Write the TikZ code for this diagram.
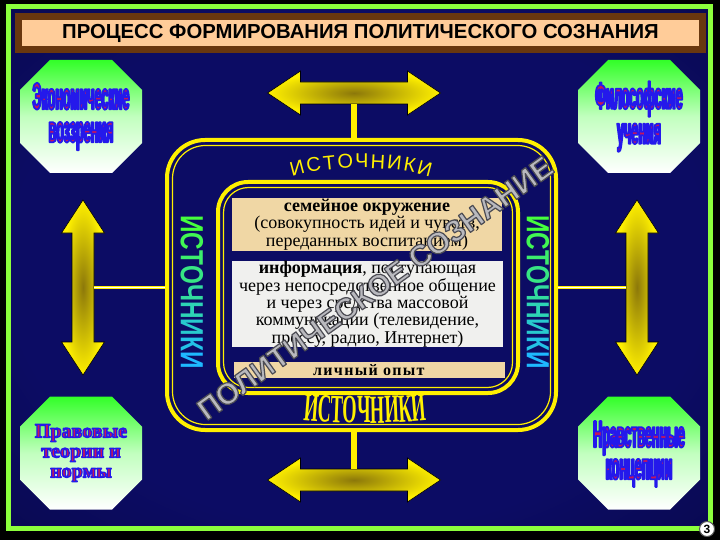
\documentclass[tikz,border=0pt]{standalone}
\usepackage{fontspec}
\setmainfont{Liberation Serif}
\newfontfamily\titlefont[FakeStretch=1.0]{Liberation Sans}
\newfontfamily\octfont[FakeStretch=0.33]{Liberation Sans}
\newfontfamily\sidefont[FakeStretch=0.76]{Liberation Sans}
\newfontfamily\archfont{Liberation Sans}
\newfontfamily\bottomfont[FakeStretch=0.46]{Liberation Serif}
\newfontfamily\markfont{Liberation Sans}
\usetikzlibrary{positioning, calc, decorations.text}

\definecolor{navy}{RGB}{12,12,100}
\definecolor{navymid}{RGB}{5,5,58}
\definecolor{navydark}{RGB}{0,0,26}
\definecolor{framegreen}{RGB}{140,255,60}
\definecolor{titlebrown}{RGB}{105,55,15}
\definecolor{titlepeach}{RGB}{255,204,153}
\definecolor{octgreen}{RGB}{50,255,40}
\definecolor{octred}{RGB}{200,20,90}
\definecolor{arrowyellow}{RGB}{255,240,0}
\definecolor{arrowolive}{RGB}{140,120,10}
\definecolor{tan}{RGB}{240,215,165}
\definecolor{infogray}{RGB}{240,240,238}
\definecolor{sidegreen}{RGB}{70,255,60}
\definecolor{sidecyan}{RGB}{30,185,255}
\definecolor{markgray}{RGB}{185,185,190}

\pgfdeclareradialshading{bgglow}{\pgfpoint{0bp}{0bp}}{color(0bp)=(navy); color(25bp)=(navy); color(50bp)=(navymid); color(70bp)=(navydark)}

\tikzstyle{titlebar} = [draw=titlebrown, line width=7pt, fill=titlepeach, minimum width=684pt, minimum height=33pt, inner sep=0pt, font=\titlefont\bfseries\fontsize{20.3}{20}\selectfont]
\tikzstyle{octagon} = [top color=octgreen, bottom color=white, middle color=octgreen!30!white]
\tikzstyle{octlabel} = [align=center, inner sep=0pt, text=octred]
\tikzstyle{arrowbody} = [draw=black, line width=0.6pt, inner color=arrowolive, outer color=arrowyellow]
\tikzstyle{stem} = [arrowyellow, line width=6pt]
\tikzstyle{wire} = [draw=arrowyellow, double=white, line width=1pt, double distance=1.2pt]
\tikzstyle{sourceframe} = [draw=arrowyellow, line width=4pt, inner sep=0pt]
\tikzstyle{sourceline} = [draw=arrowyellow, line width=1.2pt, inner sep=0pt]
\tikzstyle{textbox} = [align=center, inner sep=0pt, font=\fontsize{18}{15.4}\selectfont]
\tikzstyle{sidelabel} = [inner sep=0pt, font=\sidefont\bfseries\fontsize{32}{32}\selectfont]
\tikzstyle{marklabel} = [inner sep=0pt, rotate=35.6, text=markgray, font=\markfont\bfseries\fontsize{30}{30}\selectfont]

% Double arrows, drawn round a named centre.
\newcommand{\harrow}[2]{%
  \coordinate (#1) at (#2);
  \path[arrowbody] (#1) ++(-86.5,0) -- ++(33,-22) -- ++(0,11) -- ++(107,0) -- ++(0,-11) -- ++(33,22)
    -- ++(-33,22) -- ++(0,-11) -- ++(-107,0) -- ++(0,11) -- cycle;}
\newcommand{\varrow}[2]{%
  \coordinate (#1) at (#2);
  \path[arrowbody] (#1) ++(0,-87.5) -- ++(21.5,33) -- ++(-10.5,0) -- ++(0,109) -- ++(10.5,0) -- ++(-21.5,33)
    -- ++(-21.5,-33) -- ++(10.5,0) -- ++(0,-109) -- ++(-10.5,0) -- cycle;}

% Chamfered box round a named centre.
\newcommand{\octagonat}[2]{%
  \coordinate (#1) at (#2);
  \path[octagon] (#1) ++(-61,-26.5) -- ++(0,53) -- ++(30,30) -- ++(62,0) -- ++(30,-30) -- ++(0,-53)
    -- ++(-30,-30) -- ++(-62,0) -- cycle;}

% Stroked text: width, stroke colour as rgb.
\newcommand{\rim}[2]{\special{pdf:literal direct 2 Tr #1 w 1 j #2 RG}}
\newcommand{\rimoff}{\special{pdf:literal direct 0 Tr}}

% Word shaded from green to cyan.
\newcommand{\gradword}{\foreach \letter [count=\i] in {И,С,Т,О,Ч,Н,И,К,И}{\pgfmathtruncatemacro{\gradpct}{(\i-1)*12.5}\textcolor{sidecyan!\gradpct!sidegreen}{\letter}}}

\begin{document}
\begin{tikzpicture}[x=1pt, y=-1pt]
    \useasboundingbox (0,0) rectangle (720,540);

    % Background and border.
    \fill[black] (0,0) rectangle (720,540);
    \shade[shading=bgglow] (8,7) rectangle (710,528);
    \draw[framegreen, line width=5pt] (8,7) rectangle (710,528);

    % Title.
    \node (title) [titlebar] at (360.5,33) {ПРОЦЕСС ФОРМИРОВАНИЯ ПОЛИТИЧЕСКОГО СОЗНАНИЯ};

    % Source frames.
    \node (outer) [sourceframe, rounded corners=38pt, minimum width=389pt, minimum height=290pt] at (361.5,285) {};
    \node (outer line) [sourceline, rounded corners=33pt, minimum width=378pt, minimum height=279pt] at (outer) {};
    \node (inner) [sourceframe, rounded corners=30pt, minimum width=300pt, minimum height=211pt] at (368,287.5) {};
    \node (inner line) [sourceline, rounded corners=25pt, minimum width=289pt, minimum height=200pt] at (inner) {};

    % Arrows.
    \harrow{top arrow}{354,93}
    \harrow{bottom arrow}{354,480}
    \varrow{left arrow}{83,287.5}
    \varrow{right arrow}{637,287.5}

    % Stems from the arrows to the outer frame.
    \draw[stem] ($(top arrow)+(0,11)$) -- (top arrow |- outer.north);
    \draw[stem] ($(bottom arrow)+(0,-11)$) -- (bottom arrow |- outer.south);
    \draw[wire] ($(left arrow)+(11,0)$) -- (left arrow -| outer.west);
    \draw[wire] ($(right arrow)+(-11,0)$) -- (right arrow -| outer.east);

    % Octagons.
    \octagonat{economy}{81,116.5}
    \octagonat{philosophy}{639,116.5}
    \octagonat{law}{81,453}
    \octagonat{morals}{639,453}

    % Octagon labels.
    \node (economy label) [octlabel, font=\octfont\bfseries\fontsize{38}{33}\selectfont] at (economy)
        {\rim{1.8}{0.14 0.1 0.92}Экономические\\воззрения\rimoff};
    \node (philosophy label) [octlabel, font=\octfont\bfseries\fontsize{38}{35}\selectfont] at (philosophy)
        {\rim{1.8}{0.14 0.1 0.92}Философские\\учения\rimoff};
    \node (law label) [octlabel, font=\bfseries\fontsize{20}{20}\selectfont] at (law)
        {\rim{1.3}{0.14 0.1 0.92}Правовые\\теории и\\нормы\rimoff};
    \node (morals label) [octlabel, font=\octfont\bfseries\fontsize{38}{32}\selectfont] at ([yshift=-1pt]morals)
        {\rim{1.8}{0.14 0.1 0.92}Нравственные\\концепции\rimoff};

    % Text boxes.
    \node (family) [textbox, fill=tan, minimum width=270pt, minimum height=53pt] at (367,224.5)
        {\textbf{семейное окружение}\\(совокупность идей и чувств,\\переданных воспитанием)};
    \node (info) [textbox, fill=infogray, minimum width=271pt, minimum height=82pt] at (367.5,304)
        {\textbf{информация}, поступающая\\через непосредственное общение\\и через средства массовой\\коммуникации (телевидение,\\прессу, радио, Интернет)};
    \node (experience) [textbox, fill=tan, minimum width=271pt, minimum height=16pt, font=\fontsize{16}{16}\selectfont] at (369.5,370)
        {\addfontfeatures{LetterSpace=8}\textbf{личный опыт}};

    % Source labels.
    \node (left source) [sidelabel, rotate=-90] at (192,292) {\gradword};
    \node (right source) [sidelabel, rotate=-90] at (538,292) {\gradword};
    \path[decorate, decoration={text along path, text align={fit to path},
        text={|\archfont\fontsize{20}{20}\selectfont\color{arrowyellow}|ИСТОЧНИКИ}}]
        (292,177) .. controls (330,165) and (392,165) .. (430,177);
    \path[decorate, decoration={text along path, text align={center},
        text={|\bottomfont\bfseries\fontsize{40}{40}\selectfont\color{arrowyellow}|ИСТОЧНИКИ}}]
        (300,420) .. controls (340,424) and (390,424) .. (430,420);

    % Watermark across the frames.
    \node (watermark) [marklabel] at (375,288) {\rim{1.2}{0.3 0.3 0.33}ПОЛИТИЧЕСКОЕ СОЗНАНИЕ\rimoff};

    % Page number.
    \node (page number) [circle, draw=gray!70!black, line width=1pt, fill=white, inner sep=0pt, minimum size=15pt,
        font=\markfont\bfseries\fontsize{12}{12}\selectfont] at (707,529) {3};
\end{tikzpicture}
\end{document}
